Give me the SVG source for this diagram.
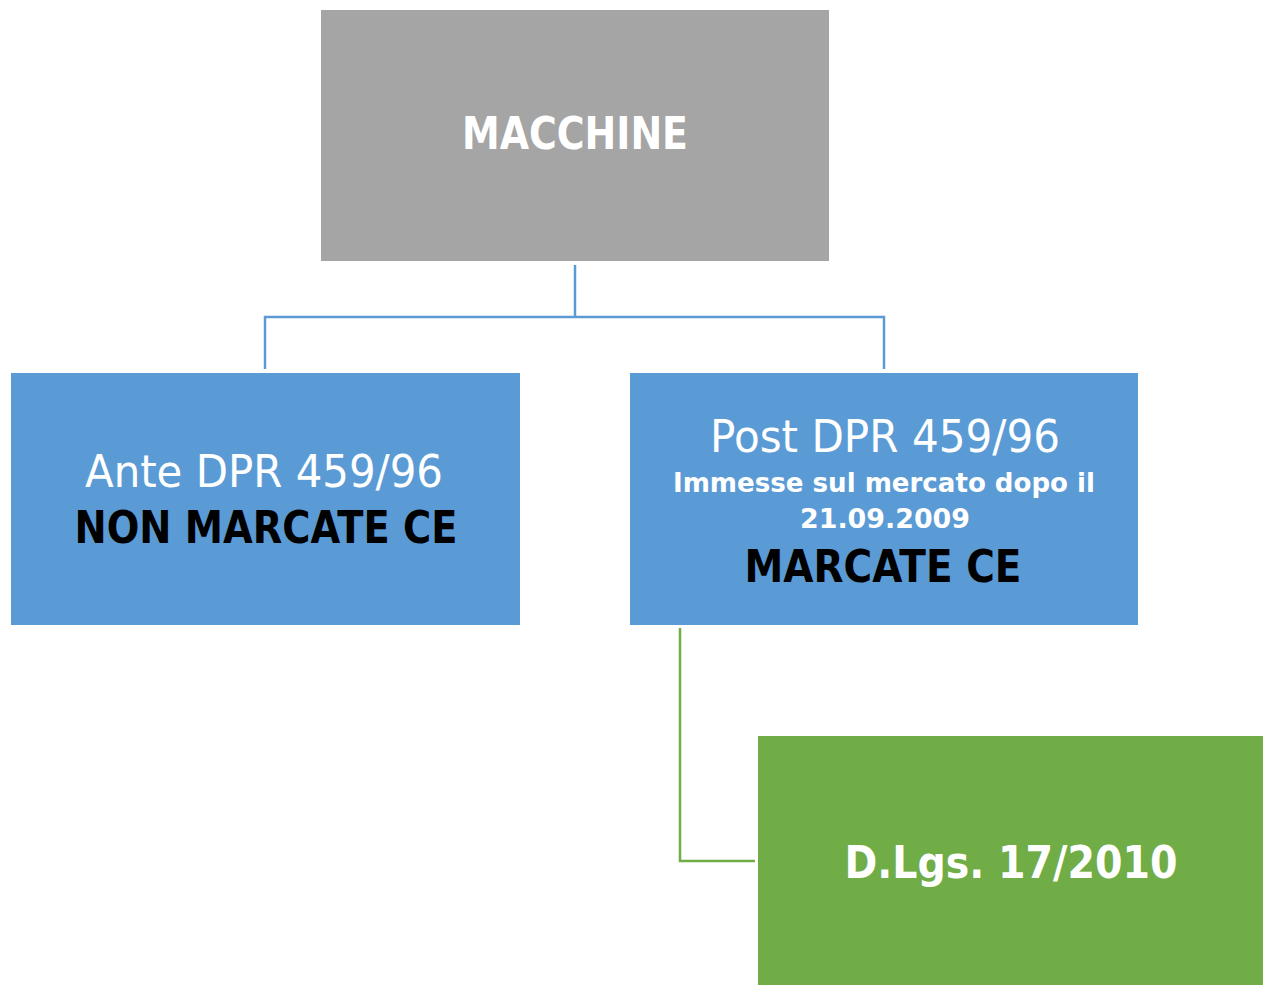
<svg xmlns="http://www.w3.org/2000/svg" width="1263" height="985" viewBox="0 0 1263 985">
<style>
.t{font-family:"DejaVu Sans","Liberation Sans",sans-serif;text-anchor:middle}
.w{fill:#ffffff}
.k{fill:#000000}
.b{font-weight:bold}
.big{font-size:44px}
.sm{font-size:27px}
.cb{fill:none;stroke:#5B9BD5;stroke-width:2.5}
.cg{fill:none;stroke:#70AD47;stroke-width:2.5}
</style>
<rect width="1263" height="985" fill="#ffffff"/>
<g id="connectors">
<path class="cb" d="M575,265 V317 M265,369 V317 H884 V369"/>
<path class="cg" d="M680,628 V861 H755"/>
</g>
<g id="macchine">
<rect x="321" y="10" width="508" height="251" fill="#A5A5A5"/>
<text class="t w b big" x="575" y="149" textLength="226" lengthAdjust="spacingAndGlyphs">MACCHINE</text>
</g>
<g id="ante">
<rect x="11" y="373" width="509" height="252" fill="#5B9BD5"/>
<text class="t w big" x="264" y="487" textLength="358" lengthAdjust="spacingAndGlyphs">Ante DPR 459/96</text>
<text class="t k b big" x="266" y="543" textLength="383" lengthAdjust="spacingAndGlyphs">NON MARCATE CE</text>
</g>
<g id="post">
<rect x="630" y="373" width="508" height="252" fill="#5B9BD5"/>
<text class="t w big" x="885" y="452" textLength="350" lengthAdjust="spacingAndGlyphs">Post DPR 459/96</text>
<text class="t w b sm" x="884" y="492" textLength="422" lengthAdjust="spacingAndGlyphs">Immesse sul mercato dopo il</text>
<text class="t w b sm" x="885" y="528" textLength="170" lengthAdjust="spacingAndGlyphs">21.09.2009</text>
<text class="t k b big" x="883" y="582" textLength="277" lengthAdjust="spacingAndGlyphs">MARCATE CE</text>
</g>
<g id="dlgs">
<rect x="758" y="736" width="505" height="249" fill="#70AD47"/>
<text class="t w b big" x="1011" y="878" textLength="333" lengthAdjust="spacingAndGlyphs">D.Lgs. 17/2010</text>
</g>
</svg>
